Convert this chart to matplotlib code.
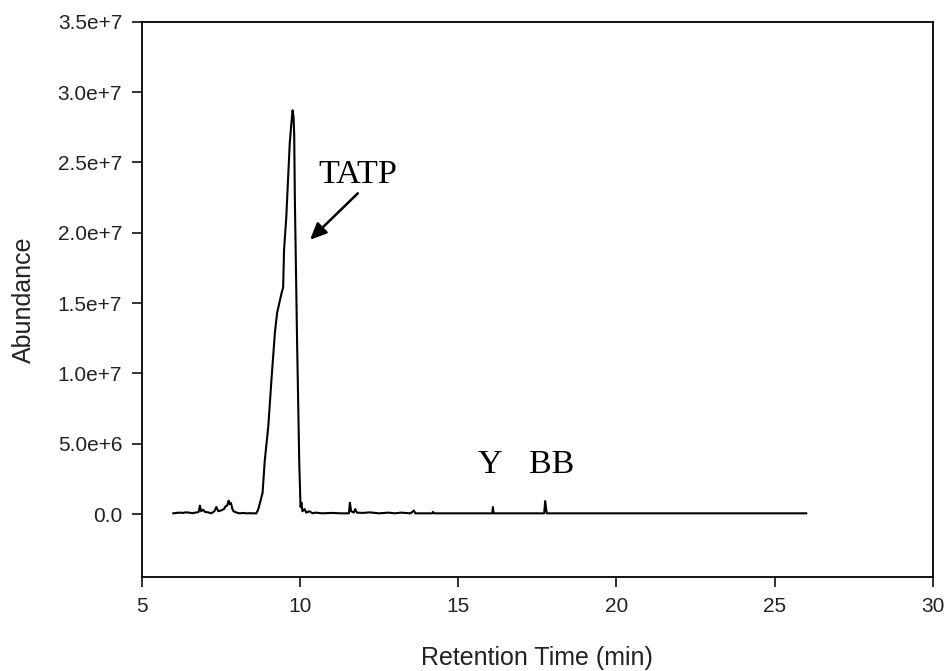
import matplotlib
matplotlib.use("Agg")
import matplotlib.pyplot as plt
from matplotlib.ticker import FixedLocator, FixedFormatter

# Retention time (min) and abundance (millions of counts)
rt = [6.00, 6.10, 6.20, 6.30, 6.40, 6.50, 6.60, 6.70, 6.80, 6.84, 6.88, 6.95, 7.00,
      7.10, 7.20, 7.30, 7.36, 7.42, 7.50, 7.60, 7.65, 7.70, 7.75, 7.78, 7.82, 7.86,
      7.90, 8.00, 8.10, 8.20, 8.30, 8.40, 8.50, 8.62, 8.68,
      8.75, 8.82, 8.89, 9.00, 9.10, 9.21, 9.28, 9.35, 9.42, 9.47, 9.50, 9.57, 9.63,
      9.68, 9.74, 9.77, 9.80, 9.82, 9.84, 9.91, 9.98, 10.02, 10.05, 10.08, 10.15,
      10.20, 10.30, 10.40, 10.50, 10.70, 11.00, 11.30, 11.55, 11.58, 11.62, 11.70,
      11.75, 11.80, 12.00, 12.20, 12.50, 12.80, 13.00, 13.20, 13.50, 13.60, 13.65,
      14.18, 14.20, 14.25, 15.00, 16.08, 16.10, 16.12, 17.72, 17.75, 17.78, 17.80, 26.00]
abundance_m = [0.05, 0.08, 0.10, 0.08, 0.12, 0.10, 0.06, 0.10, 0.15, 0.60, 0.20, 0.30, 0.15,
               0.12, 0.05, 0.20, 0.50, 0.20, 0.25, 0.35, 0.55, 0.60, 0.95, 0.70, 0.80, 0.40,
               0.20, 0.10, 0.05, 0.08, 0.05, 0.06, 0.05, 0.05, 0.30,
               0.90, 1.50, 3.80, 6.20, 9.50, 12.90, 14.30, 15.00, 15.70, 16.10, 18.80, 21.10, 24.00,
               26.40, 28.00, 28.70, 28.20, 27.00, 22.50, 12.40, 3.60, 0.50, 0.80, 0.20, 0.35,
               0.10, 0.20, 0.05, 0.10, 0.05, 0.08, 0.05, 0.05, 0.80, 0.20, 0.10,
               0.35, 0.10, 0.08, 0.12, 0.05, 0.10, 0.05, 0.10, 0.05, 0.25, 0.05,
               0.05, 0.15, 0.05, 0.05, 0.05, 0.50, 0.05, 0.05, 0.92, 0.40, 0.05, 0.05]

xtick_values = [5, 10, 15, 20, 25, 30]
xtick_labels = ["5", "10", "15", "20", "25", "30"]
ytick_values = [0, 5e6, 1e7, 1.5e7, 2e7, 2.5e7, 3e7, 3.5e7]
ytick_labels = ["0.0", "5.0e+6", "1.0e+7", "1.5e+7", "2.0e+7", "2.5e+7", "3.0e+7", "3.5e+7"]

peak_labels = ["TATP", "Y", "BB"]
peak_label_pos = [(10.57, 23.5e6), (15.62, 2.94e6), (17.24, 2.94e6)]
arrow_tail = (11.83, 22.8e6)
arrow_head = (10.32, 19.5e6)

sans = ["Liberation Sans", "DejaVu Sans"]
serif = ["Liberation Serif", "DejaVu Serif"]

fig = plt.figure(figsize=(9.47, 6.71), dpi=100)
ax = fig.add_axes([0.1496, 0.140, 0.985 - 0.1496, 0.9677 - 0.140])

ax.plot(rt, [a * 1e6 for a in abundance_m], color="black", linewidth=1.5)

ax.set_xlim(5, 30)
ax.set_ylim(-4.48e6, 3.5e7)
ax.xaxis.set_major_locator(FixedLocator(xtick_values))
ax.xaxis.set_major_formatter(FixedFormatter(xtick_labels))
ax.yaxis.set_major_locator(FixedLocator(ytick_values))
ax.yaxis.set_major_formatter(FixedFormatter(ytick_labels))

for s in ax.spines.values():
    s.set_linewidth(1.3)
ax.tick_params(direction="out", length=7, width=1.3, labelsize=15, pad=7, color="#222222")
for lab in ax.get_xticklabels() + ax.get_yticklabels():
    lab.set_family(sans)
    lab.set_color("#222222")

ax.set_xlabel("Retention Time (min)", fontsize=18, family=sans, labelpad=22, color="#222222")
ax.set_ylabel("Abundance", fontsize=18, family=sans, labelpad=16, color="#222222")

for txt, (x, y) in zip(peak_labels, peak_label_pos):
    ax.text(x, y, txt, family=serif, fontsize=24.5, ha="left", va="baseline", color="black")

ax.annotate("", xy=arrow_head, xytext=arrow_tail,
            arrowprops=dict(arrowstyle="-|>,head_length=1.0,head_width=0.45",
                            color="black", lw=1.8, shrinkA=0, shrinkB=0))

fig.savefig("out.png", dpi=100)
